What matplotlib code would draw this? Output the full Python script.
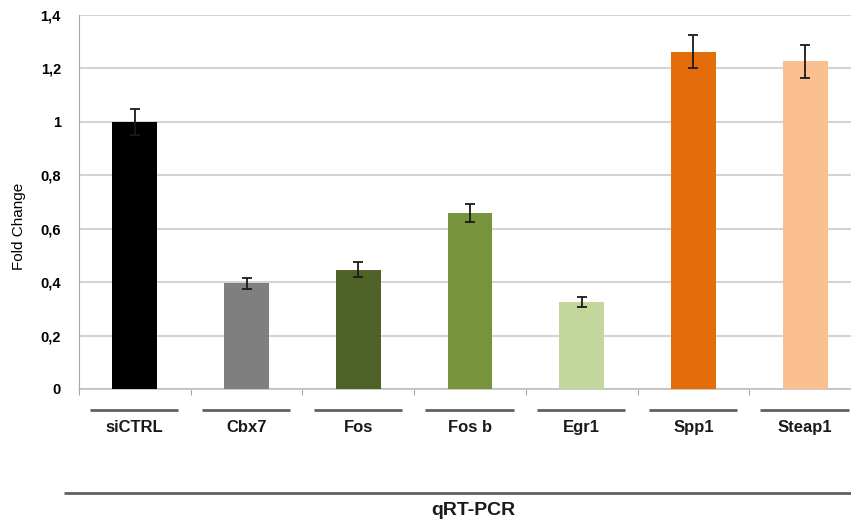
import matplotlib
matplotlib.use("Agg")
import matplotlib.pyplot as plt
import matplotlib.transforms as mtransforms

plt.rcParams["font.family"] = ["Liberation Sans", "DejaVu Sans"]

genes = ["siCTRL", "Cbx7", "Fos", "Fos b", "Egr1", "Spp1", "Steap1"]
fold_change = [1.0, 0.395, 0.447, 0.659, 0.326, 1.263, 1.227]
errors = [0.05, 0.02, 0.027, 0.033, 0.02, 0.062, 0.062]
colors = ["#000000", "#7f7f7f", "#4f6228", "#77933c", "#c3d69b", "#e46c0a", "#fac090"]
y_ticks = [0, 0.2, 0.4, 0.6, 0.8, 1.0, 1.2, 1.4]
y_tick_labels = ["0", "0,2", "0,4", "0,6", "0,8", "1", "1,2", "1,4"]

fig = plt.figure(figsize=(8.51, 5.19), dpi=100)
ax = fig.add_axes([0.0928, 0.2505, 0.919, 0.7205])

x = list(range(len(genes)))
ax.bar(x, fold_change, width=0.4, color=colors, zorder=3)
ax.errorbar(x, fold_change, yerr=errors, fmt="none", ecolor="#1a1a1a",
            elinewidth=1.3, capsize=3.5, capthick=1.3, zorder=4)

ax.set_xlim(-0.5, len(genes) - 0.5)
ax.set_ylim(0, 1.4)
ax.set_yticks(y_ticks)
ax.set_yticklabels(y_tick_labels, fontsize=10.5, fontweight="bold")
ax.yaxis.grid(True, color="#d4d4d4", linewidth=1.5, zorder=0)
ax.tick_params(axis="y", length=0, pad=13)

# category boundaries marked with small ticks below the baseline
ax.set_xticks([i - 0.5 for i in x] + [len(genes) - 0.5])
ax.set_xticklabels([])
ax.tick_params(axis="x", length=4, color="#a6a6a6", width=0.8)

for side in ["top", "right"]:
    ax.spines[side].set_visible(False)
ax.spines["left"].set_color("#a6a6a6")
ax.spines["bottom"].set_color("#bfbfbf")
ax.spines["bottom"].set_linewidth(1.2)

ax.set_ylabel("Fold Change", fontsize=11)
ax.yaxis.set_label_coords(-0.068, 0.436)

# grouped axis labels: short bar + gene name, then the assay row
trans = mtransforms.blended_transform_factory(ax.transData, ax.transAxes)
for i, name in enumerate(genes):
    ax.plot([i - 0.4, i + 0.39], [-0.056, -0.056], color="#5f5f5f", lw=2,
            transform=trans, clip_on=False, solid_capstyle="butt")
    ax.text(i, -0.104, name, transform=trans, ha="center", va="center",
            fontsize=12, fontweight="bold", color="#1a1a1a")

ax.plot([-0.635, len(genes) - 0.5], [-0.278, -0.278], color="#5f5f5f", lw=2,
        transform=trans, clip_on=False, solid_capstyle="butt")
ax.text(3.03, -0.325, "qRT-PCR", transform=trans, ha="center", va="center",
        fontsize=14, fontweight="bold", color="#1a1a1a")

fig.savefig("out.png", dpi=100)
